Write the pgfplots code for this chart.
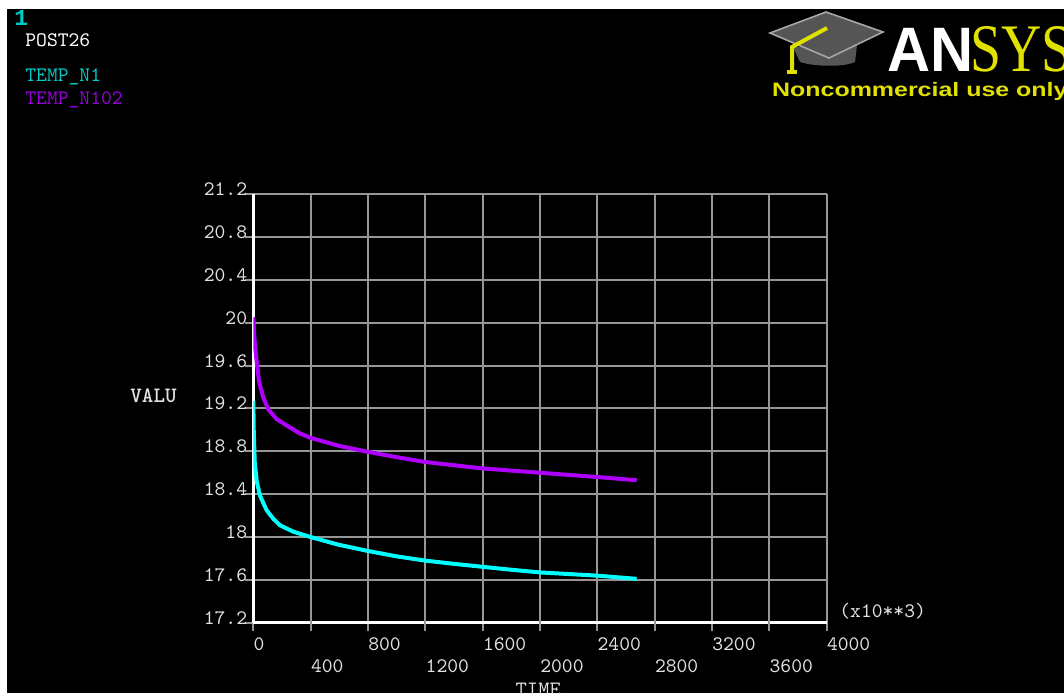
\documentclass[border=0pt]{standalone}
\usepackage{pgfplots}
\pgfplotsset{compat=1.18}
\usepackage{fontspec}
\setmainfont{Liberation Mono}
\newfontfamily\logosans{Liberation Sans}
\newfontfamily\logoserif{Liberation Serif}
\definecolor{cy}{RGB}{0,255,255}
\definecolor{pu}{RGB}{175,0,255}
\definecolor{cytxt}{RGB}{0,205,200}
\definecolor{putxt}{RGB}{150,0,220}
\definecolor{lbl}{RGB}{225,225,225}
\definecolor{gridc}{RGB}{150,150,150}
\definecolor{ylw}{RGB}{225,225,0}
\definecolor{capg}{RGB}{85,85,85}
\pgfplotstableread{
t v
0 19.27
3 19.00
10 18.70
24 18.52
47 18.385
93 18.25
140 18.17
186 18.11
279 18.05
400 18.00
590 17.93
800 17.87
1000 17.82
1200 17.78
1400 17.75
1617 17.72
1800 17.695
2000 17.67
2200 17.655
2400 17.64
2675 17.61
}\tempnone
\pgfplotstableread{
t v
0 20.05
8 19.85
20 19.68
40 19.45
70 19.30
105 19.19
163 19.10
246 19.03
320 18.97
400 18.925
600 18.85
800 18.795
1000 18.745
1200 18.70
1400 18.67
1600 18.64
1800 18.62
2000 18.60
2200 18.58
2400 18.56
2675 18.53
}\temponeohtwo
\begin{document}
\begin{tikzpicture}[x=0.5pt,y=0.5pt]
\useasboundingbox (0,0) rectangle (1064,693);
\fill[white] (0,0) rectangle (1064,693);
\fill[black] (7,0) rectangle (1064,684);
\begin{axis}[
  at={(126.65pt,35.1pt)}, anchor=south west,
  scale only axis, width=286.65pt, height=214.4pt,
  xmin=0, xmax=4000, ymin=17.2, ymax=21.2,
  axis x line=bottom, axis y line=left,
  axis line style={white, line width=1.5pt, -},
  xtick={0,800,1600,2400,3200,4000},
  xticklabels={0,800,1600,2400,3200,4000},
  extra x ticks={400,1200,2000,2800,3600},
  extra x tick labels={400,1200,2000,2800,3600},
  extra x tick style={xticklabel style={yshift=-11pt}},
  ytick={17.2,17.6,18,18.4,18.8,19.2,19.6,20,20.4,20.8,21.2},
  yticklabels={17.2,17.6,18,18.4,18.8,19.2,19.6,20,20.4,20.8,21.2},
  grid=major, grid style={gridc, line width=1pt},
  tick style={gridc, line width=1pt},
  major tick length=4pt, tick align=outside,
  /pgf/number format/assume math mode=true,
  ticklabel style={font=\ttfamily\fontsize{10.3pt}{10.3pt}\selectfont, text=lbl, inner sep=0pt},
  xticklabel style={anchor=base west, yshift=-9.9pt},
  yticklabel style={anchor=base east, xshift=1.1pt, yshift=-0.75pt},
]
\addplot[cy, line width=2pt] table[x=t,y=v] {\tempnone};
\addplot[pu, line width=2pt] table[x=t,y=v] {\temponeohtwo};
\end{axis}
% header texts
\node[anchor=base west, inner sep=0pt, text=cytxt, font=\fontsize{11.4pt}{11.4pt}\selectfont\bfseries] at (14,667.3) {1};
\node[anchor=base west, inner sep=0pt, text=white, font=\ttfamily\fontsize{10.3pt}{10.3pt}\selectfont] at (25,646.3) {POST26};
\node[anchor=base west, inner sep=0pt, text=cytxt, font=\ttfamily\fontsize{10.3pt}{10.3pt}\selectfont] at (25,611.3) {TEMP\_N1};
\node[anchor=base west, inner sep=0pt, text=putxt, font=\ttfamily\fontsize{10.3pt}{10.3pt}\selectfont] at (25,588.7) {TEMP\_N102};
\node[anchor=base west, inner sep=0pt, text=lbl, font=\ttfamily\fontsize{11pt}{11pt}\selectfont\bfseries] at (130,290.3) {VALU};
\node[anchor=base, inner sep=0pt, text=lbl, font=\ttfamily\fontsize{11pt}{11pt}\selectfont] at (538.3,-3.8) {TIME};
\node[anchor=base west, inner sep=0pt, text=lbl, font=\ttfamily\fontsize{10.3pt}{10.3pt}\selectfont] at (839,76) {(x10**3)};
% logo
\fill[capg] (793,646) -- (800,631) .. controls (815,626) and (845,626) .. (855,631) -- (857,648) -- cycle;
\filldraw[fill=capg, draw=gray!70, line width=0.8pt] (770,660) -- (826,681) -- (883,661) -- (829,635) -- cycle;
\draw[ylw, line width=2pt] (827,665) -- (792,646) -- (792,622);
\fill[ylw] (787,619) rectangle (797,623);
\node[anchor=base west, inner sep=0pt, text=white, font=\logosans\bfseries\fontsize{31.4pt}{31.4pt}\selectfont] at (886.7,621.3) {\scalebox{0.95}[1]{AN}};
\node[anchor=base west, inner sep=0pt, text=ylw] at (970,621.3) {\scalebox{0.82}[1]{\logoserif\fontsize{34pt}{34pt}\selectfont SYS}};
\node[anchor=base west, inner sep=0pt, text=ylw] at (771.7,596.3) {\scalebox{1.28}[1]{\logosans\bfseries\fontsize{9.75pt}{9.75pt}\selectfont Noncommercial use only}};
\end{tikzpicture}
\end{document}
